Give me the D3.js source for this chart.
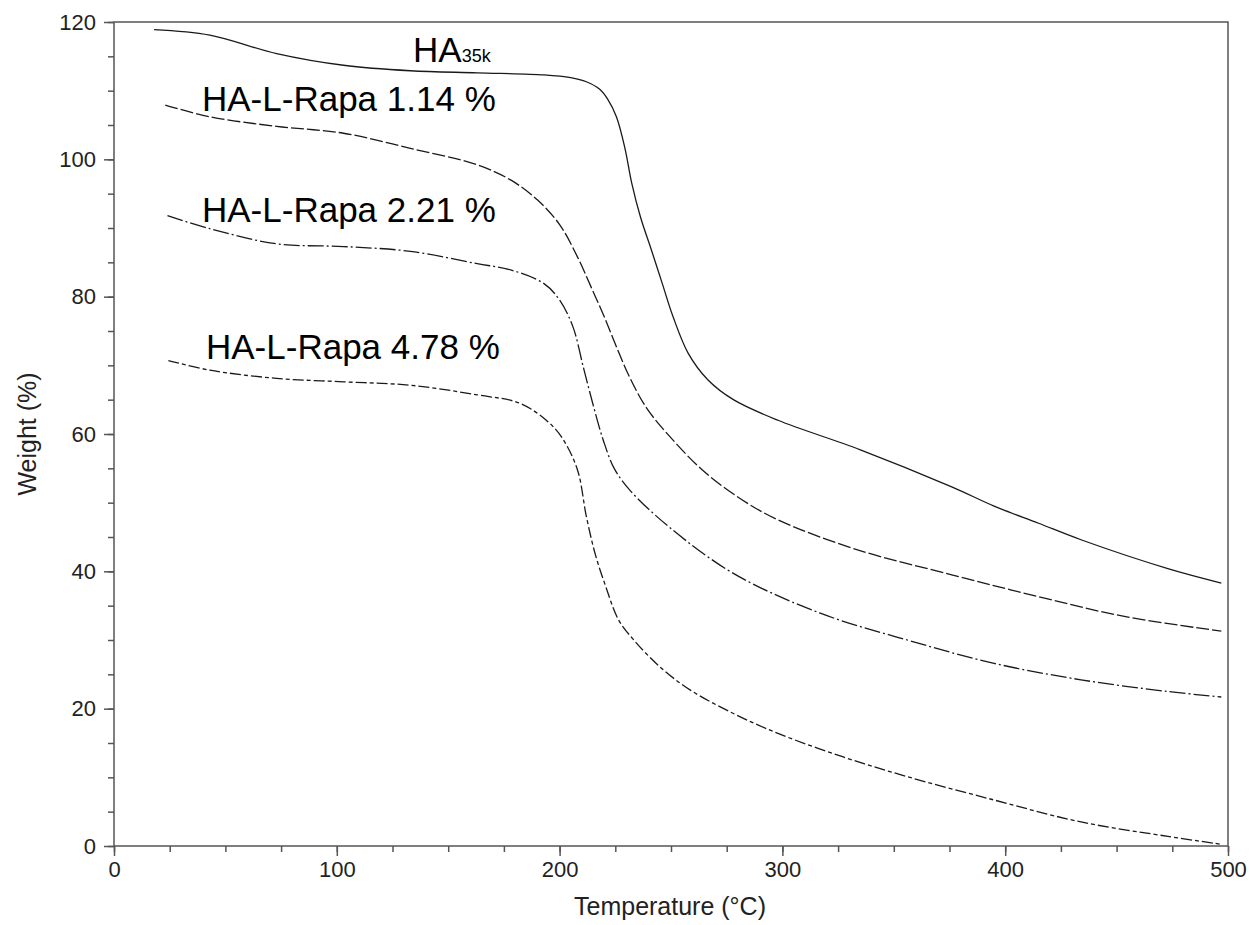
<!DOCTYPE html>
<html>
<head>
<meta charset="utf-8">
<script src="https://cdn.jsdelivr.net/npm/d3@7"></script>
<style>
  body { margin: 0; background: #fff; }
  text { font-family: "Liberation Sans", Arial, sans-serif; }
</style>
</head>
<body>
<div id="grafica"></div>
<script>
// datos (temperatura en °C, peso en %)
var tempHA = [18, 43, 73, 103, 133, 163, 193, 205, 212, 218, 221.5, 225.5, 229.4, 232.4, 236.3, 241.2, 246.1, 250.9, 257.8, 266.5, 278, 298, 335, 376, 395, 415, 434, 473, 497];
var pesoHA = [118.9, 118.1, 115.4, 113.7, 112.9, 112.6, 112.3, 111.9, 111.3, 110.2, 108.8, 106.2, 101.5, 96.5, 91.6, 86.8, 81.9, 77.1, 71.7, 67.9, 65.0, 62.0, 57.7, 52.3, 49.5, 47.0, 44.6, 40.4, 38.3];

var temp114 = [23, 43, 73, 103, 133, 163, 178, 190, 200, 208, 214, 220, 225.5, 231.4, 239, 249, 264.6, 282, 298, 333, 376, 415, 454, 497];
var peso114 = [107.9, 106.2, 104.8, 103.8, 101.6, 99.2, 97.0, 94.1, 90.5, 85.8, 81.5, 77.1, 72.7, 68.3, 63.8, 59.8, 54.6, 50.4, 47.5, 43.2, 39.5, 36.3, 33.4, 31.3];

var temp221 = [24, 43, 73, 103, 133, 163, 178, 193, 200, 206, 210.6, 215, 219.6, 224.5, 231.6, 249, 278, 317, 356, 395, 434, 473, 497];
var peso221 = [91.8, 89.9, 87.7, 87.3, 86.6, 84.8, 83.9, 81.9, 79.5, 75.6, 69.8, 64.3, 59.1, 55.0, 51.8, 46.5, 39.7, 33.9, 30.0, 26.6, 24.2, 22.5, 21.7];

var temp478 = [24.4, 43, 73, 103, 133, 163, 182, 194, 201, 208, 212, 216, 220.7, 226.5, 233.3, 245, 258.7, 278, 298, 327, 356, 395, 434, 473, 497];
var peso478 = [70.7, 69.3, 68.1, 67.6, 67.1, 65.7, 64.5, 62.0, 59.5, 54.8, 48.0, 42.5, 37.8, 32.9, 30.0, 26.1, 22.7, 19.3, 16.4, 13.0, 10.1, 6.7, 3.5, 1.4, 0.25];

var ticksX = [0, 100, 200, 300, 400, 500];
var ticksY = [0, 20, 40, 60, 80, 100, 120];

var series = [
  { nombre: "HA35k", t: tempHA, w: pesoHA, dash: null },
  { nombre: "1.14", t: temp114, w: peso114, dash: "13,3" },
  { nombre: "2.21", t: temp221, w: peso221, dash: "16,3,2,3" },
  { nombre: "4.78", t: temp478, w: peso478, dash: "11,3,4,3" }
];

var ancho = 1250, alto = 925;
var margen = { top: 22, right: 22, bottom: 79, left: 114 };

var svg = d3.select("#grafica").append("svg")
  .attr("width", ancho)
  .attr("height", alto);

var x = d3.scaleLinear().domain([0, 500]).range([margen.left, ancho - margen.right]);
var y = d3.scaleLinear().domain([0, 120]).range([alto - margen.bottom, margen.top]);

var colorEje = "#555";

// ticks menores
svg.append("g")
  .attr("transform", "translate(0," + y(0) + ")")
  .call(d3.axisBottom(x).tickValues(d3.range(0, 501, 25)).tickSize(6).tickFormat(""))
  .call(g => g.select(".domain").remove())
  .call(g => g.selectAll("line").attr("stroke", colorEje).attr("stroke-width", 1.5));

svg.append("g")
  .attr("transform", "translate(" + x(0) + ",0)")
  .call(d3.axisLeft(y).tickValues(d3.range(0, 121, 5)).tickSize(6).tickFormat(""))
  .call(g => g.select(".domain").remove())
  .call(g => g.selectAll("line").attr("stroke", colorEje).attr("stroke-width", 1.5));

// ticks mayores
svg.append("g")
  .attr("transform", "translate(0," + y(0) + ")")
  .call(d3.axisBottom(x).tickValues(ticksX).tickSize(10).tickPadding(5))
  .call(g => g.select(".domain").remove())
  .call(g => g.selectAll("line").attr("stroke", colorEje).attr("stroke-width", 1.5))
  .call(g => g.selectAll("text").attr("font-size", 22).attr("fill", "#222")
    .attr("font-family", "Liberation Sans, Arial, sans-serif"));

svg.append("g")
  .attr("transform", "translate(" + x(0) + ",0)")
  .call(d3.axisLeft(y).tickValues(ticksY).tickSize(10).tickPadding(8))
  .call(g => g.select(".domain").remove())
  .call(g => g.selectAll("line").attr("stroke", colorEje).attr("stroke-width", 1.5))
  .call(g => g.selectAll("text").attr("font-size", 22).attr("fill", "#222")
    .attr("font-family", "Liberation Sans, Arial, sans-serif"));

// marco
svg.append("rect")
  .attr("x", x(0))
  .attr("y", y(120))
  .attr("width", x(500) - x(0))
  .attr("height", y(0) - y(120))
  .attr("fill", "none")
  .attr("stroke", colorEje)
  .attr("stroke-width", 1.5);

// curvas
var linea = d3.line()
  .x(d => x(d[0]))
  .y(d => y(d[1]))
  .curve(d3.curveCatmullRom.alpha(0.5));

series.forEach(function (s) {
  var puntos = s.t.map((t, i) => [t, s.w[i]]);
  svg.append("path")
    .datum(puntos)
    .attr("d", linea)
    .attr("fill", "none")
    .attr("stroke", "#1a1a1a")
    .attr("stroke-width", 1.3)
    .attr("stroke-dasharray", s.dash);
});

// etiquetas
var ha = svg.append("text")
  .attr("x", 413)
  .attr("y", 62)
  .attr("font-size", 35)
  .attr("fill", "#000");
ha.append("tspan").text("HA");
ha.append("tspan").attr("font-size", 18).text("35k");

svg.append("text").attr("x", 202).attr("y", 111).attr("font-size", 35).attr("fill", "#000").text("HA-L-Rapa 1.14 %");
svg.append("text").attr("x", 202).attr("y", 222).attr("font-size", 35).attr("fill", "#000").text("HA-L-Rapa 2.21 %");
svg.append("text").attr("x", 206).attr("y", 359).attr("font-size", 35).attr("fill", "#000").text("HA-L-Rapa 4.78 %");

// titulos de ejes
svg.append("text")
  .attr("x", 670)
  .attr("y", 915)
  .attr("text-anchor", "middle")
  .attr("font-size", 25)
  .attr("fill", "#222")
  .text("Temperature (°C)");

svg.append("text")
  .attr("transform", "translate(36," + y(60) + ") rotate(-90)")
  .attr("text-anchor", "middle")
  .attr("font-size", 25)
  .attr("fill", "#222")
  .text("Weight (%)");
</script>
</body>
</html>
